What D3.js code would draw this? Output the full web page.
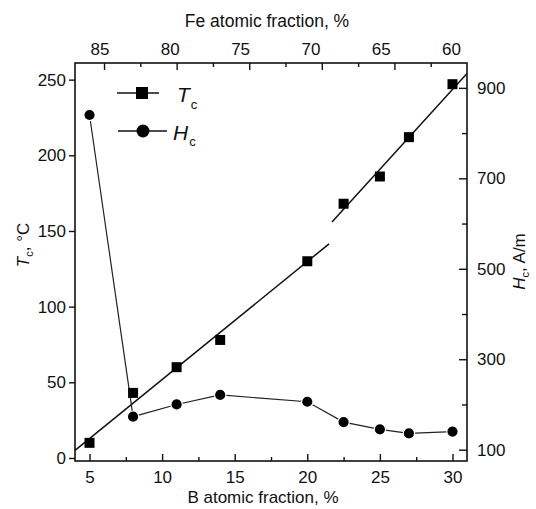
<!DOCTYPE html>
<html>
<head>
<meta charset="utf-8">
<script src="https://cdn.jsdelivr.net/npm/d3@7"></script>
<style>
  body { margin: 0; background: #fff; }
  svg text { font-family: "Liberation Sans", Arial, Helvetica, sans-serif; fill: #111; }
  .axis path { display: none; }
  .axis line { stroke: #111; stroke-width: 1.4; }
</style>
</head>
<body>
<script>
// B atomic fraction, % (bottom axis)
var bFrac = [5, 8, 11, 14, 20, 22.5, 25, 27, 30];
// Curie temperature Tc, degC (left axis)
var tcVals = [10, 43, 60, 78, 130, 168, 186, 212, 247];
// coercive force Hc, A/m (right axis)
var hcVals = [840, 173, 200, 221, 206, 161, 145, 136, 140];
// the two straight fit lines through Tc
var tcFitLow = [[4, 5], [21.5, 141.5]];
var tcFitHigh = [[21.7, 156], [31, 254]];

var bTicks = [5, 10, 15, 20, 25, 30];
var bMinor = [7.5, 12.5, 17.5, 22.5, 27.5];
var feLabels = [85, 80, 75, 70, 65, 60];
var feTickPos = [6, 11, 16, 21, 26];
var feMinorPos = [8.5, 13.5, 18.5, 23.5, 28.5];
var tcTicks = [0, 50, 100, 150, 200, 250];
var hcTicks = [100, 300, 500, 700, 900];
var hcMinor = [200, 400, 600, 800];

var W = 536, H = 509;
var pL = 75, pR = 467, pT = 63, pB = 461;

var x = d3.scaleLinear().domain([4, 31]).range([pL, pR]);
var xFe = d3.scaleLinear().domain([85, 60]).range([99.5, 451]);
var yT = d3.scaleLinear().domain([-2, 261]).range([pB, pT]);
var yH = d3.scaleLinear().domain([75, 955]).range([pB, pT]);

var svg = d3.select('body').append('svg')
  .attr('width', W)
  .attr('height', H);

var fs = 17;

// bottom axis
svg.append('g').attr('class', 'axis')
  .attr('transform', 'translate(0,' + pB + ')')
  .call(d3.axisBottom(x).tickValues(bTicks).tickSize(-7).tickPadding(10))
  .selectAll('text').style('font-size', fs + 'px');
svg.append('g').attr('class', 'axis')
  .attr('transform', 'translate(0,' + pB + ')')
  .call(d3.axisBottom(x).tickValues(bMinor).tickSize(-4).tickFormat(''));

// top axis: tick marks and Fe labels
svg.append('g').attr('class', 'axis')
  .attr('transform', 'translate(0,' + pT + ')')
  .call(d3.axisTop(x).tickValues(feTickPos).tickSize(-7).tickFormat(''));
svg.append('g').attr('class', 'axis')
  .attr('transform', 'translate(0,' + pT + ')')
  .call(d3.axisTop(x).tickValues(feMinorPos).tickSize(-4).tickFormat(''));
svg.append('g').attr('class', 'axis')
  .attr('transform', 'translate(0,' + pT + ')')
  .call(d3.axisTop(xFe).tickValues(feLabels).tickSize(0).tickPadding(8))
  .selectAll('text').style('font-size', fs + 'px');

// left axis
svg.append('g').attr('class', 'axis')
  .attr('transform', 'translate(' + pL + ',0)')
  .call(d3.axisLeft(yT).tickValues(tcTicks).tickSize(6).tickPadding(3))
  .selectAll('text').style('font-size', fs + 'px');

// right axis
svg.append('g').attr('class', 'axis')
  .attr('transform', 'translate(' + pR + ',0)')
  .call(d3.axisRight(yH).tickValues(hcTicks).tickSize(-8).tickPadding(10))
  .selectAll('text').style('font-size', fs + 'px');
svg.append('g').attr('class', 'axis')
  .attr('transform', 'translate(' + pR + ',0)')
  .call(d3.axisRight(yH).tickValues(hcMinor).tickSize(-5).tickFormat(''));

// frame
svg.append('rect')
  .attr('x', pL).attr('y', pT)
  .attr('width', pR - pL).attr('height', pB - pT)
  .attr('fill', 'none').attr('stroke', '#111').attr('stroke-width', 1.6);

// axis titles
svg.append('text')
  .attr('x', 263).attr('y', 503)
  .attr('text-anchor', 'middle')
  .style('font-size', '17px')
  .text('B atomic fraction, %');

svg.append('text')
  .attr('x', 267).attr('y', 27)
  .attr('text-anchor', 'middle')
  .style('font-size', '17.5px')
  .text('Fe atomic fraction, %');

var tl = svg.append('text')
  .attr('transform', 'translate(28.5,245) rotate(-90)')
  .attr('text-anchor', 'middle')
  .style('font-size', '17px');
tl.append('tspan').style('font-style', 'italic').text('T');
tl.append('tspan').attr('dy', 4).style('font-size', '11px').text('c');
tl.append('tspan').attr('dy', -4).text(', \u00b0C');

var tr = svg.append('text')
  .attr('transform', 'translate(525,261.5) rotate(-90)')
  .attr('text-anchor', 'middle')
  .style('font-size', '17px');
tr.append('tspan').style('font-style', 'italic').text('H');
tr.append('tspan').attr('dy', 4).style('font-size', '11px').text('c');
tr.append('tspan').attr('dy', -4).text(', A/m');

// Tc fit lines
var line = d3.line()
  .x(function(d) { return x(d[0]); })
  .y(function(d) { return yT(d[1]); });

[tcFitLow, tcFitHigh].forEach(function(seg) {
  svg.append('path')
    .attr('d', line(seg))
    .attr('fill', 'none')
    .attr('stroke', '#111')
    .attr('stroke-width', 1.5);
});

// Hc line
var hcLine = d3.line()
  .x(function(d, i) { return x(bFrac[i]); })
  .y(function(d) { return yH(d); });

svg.append('path')
  .attr('d', hcLine(hcVals))
  .attr('fill', 'none')
  .attr('stroke', '#222')
  .attr('stroke-width', 1.2);

// markers
var sq = 10;
svg.selectAll('.sq')
  .data(tcVals)
  .enter().append('rect')
  .attr('class', 'sq')
  .attr('x', function(d, i) { return x(bFrac[i]) - sq / 2; })
  .attr('y', function(d) { return yT(d) - sq / 2; })
  .attr('width', sq).attr('height', sq)
  .attr('fill', '#000');

svg.selectAll('.dot')
  .data(hcVals)
  .enter().append('circle')
  .attr('class', 'dot')
  .attr('cx', function(d, i) { return x(bFrac[i]); })
  .attr('cy', function(d) { return yH(d); })
  .attr('r', 5.7)
  .attr('fill', '#000')
  .attr('stroke', '#fff')
  .attr('stroke-width', 1.2);

// legend
var lg = svg.append('g');
lg.append('line').attr('x1', 117).attr('x2', 159).attr('y1', 93).attr('y2', 93)
  .attr('stroke', '#111').attr('stroke-width', 1.3);
lg.append('rect').attr('x', 142 - 6).attr('y', 93 - 6).attr('width', 12).attr('height', 12)
  .attr('fill', '#000');
var lt = lg.append('text').attr('x', 177).attr('y', 101.5).style('font-size', '21px');
lt.append('tspan').style('font-style', 'italic').text('T');
lt.append('tspan').attr('dy', 7).attr('dx', 1).style('font-size', '13px').text('c');

lg.append('line').attr('x1', 118).attr('x2', 167).attr('y1', 131).attr('y2', 131)
  .attr('stroke', '#111').attr('stroke-width', 1.3);
lg.append('circle').attr('cx', 143).attr('cy', 131).attr('r', 6.5)
  .attr('fill', '#000');
var lh = lg.append('text').attr('x', 173).attr('y', 139.5).style('font-size', '21px');
lh.append('tspan').style('font-style', 'italic').text('H');
lh.append('tspan').attr('dy', 6).attr('dx', 1).style('font-size', '13px').text('c');
</script>
</body>
</html>
